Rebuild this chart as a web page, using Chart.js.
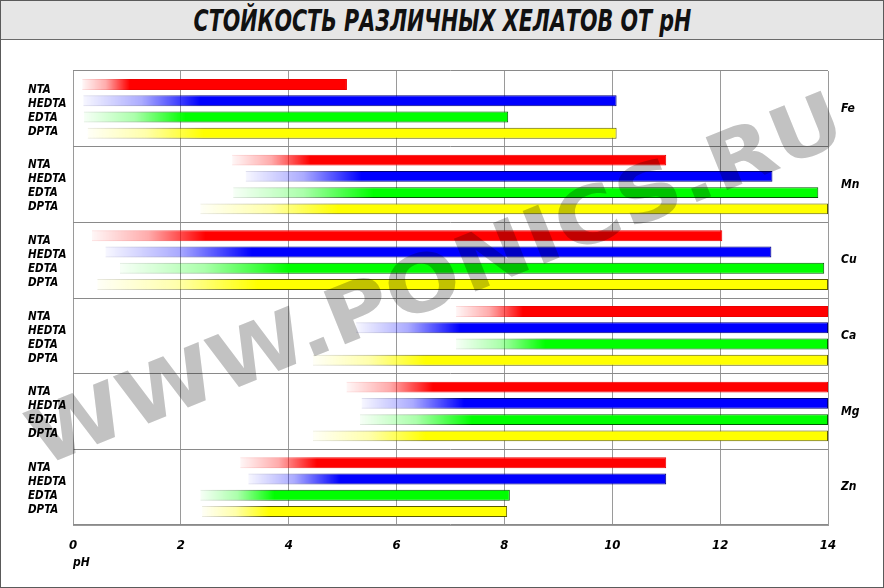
<!DOCTYPE html>
<html lang="ru">
<head>
<meta charset="utf-8">
<title>Стойкость различных хелатов от pH</title>
<script src="https://cdn.jsdelivr.net/npm/chart.js@4.4.1/dist/chart.umd.min.js"></script>
<style>
    html, body {
        margin: 0;
        padding: 0;
        background: #ffffff;
    }
    .frame {
        position: relative;
        width: 884px;
        height: 588px;
        box-sizing: border-box;
        border: 1px solid #5a5a5a;
        background: #ffffff;
        overflow: hidden;
    }
    .title-bar {
        height: 38px;
        background: #e6e6e6;
        border-bottom: 1px solid #6a6a6a;
        text-align: center;
        font-family: "DejaVu Sans Condensed", "DejaVu Sans", sans-serif;
        font-weight: bold;
        font-style: italic;
        font-size: 30px;
        line-height: 40px;
        color: #111111;
    }
    .title-bar span {
        display: inline-block;
        transform: scaleX(0.765);
        white-space: nowrap;
    }
    .chart-box {
        position: absolute;
        left: 0;
        top: 39px;
        width: 882px;
        height: 547px;
    }
</style>
</head>
<body>
<div class="frame">
    <div class="title-bar"><span>СТОЙКОСТЬ РАЗЛИЧНЫХ ХЕЛАТОВ ОТ pH</span></div>
    <div class="chart-box"><canvas id="chelateChart"></canvas></div>
</div>

<script>
// Data (pH ranges of stability)
const metals = ['Fe', 'Mn', 'Cu', 'Ca', 'Mg', 'Zn'];
const chelates = ['NTA', 'HEDTA', 'EDTA', 'DPTA'];
const phTicks = [0, 2, 4, 6, 8, 10, 12, 14];

const ntaStart   = [0.17, 2.95, 0.35, 7.10, 5.07, 3.10];
const ntaEnd     = [5.08, 11.00, 12.04, 14.00, 14.00, 11.00];
const hedtaStart = [0.19, 3.20, 0.60, 5.25, 5.35, 3.25];
const hedtaEnd   = [10.08, 12.97, 12.95, 14.00, 14.00, 11.00];
const edtaStart  = [0.20, 2.97, 0.87, 7.10, 5.32, 2.36];
const edtaEnd    = [8.07, 13.82, 13.93, 14.00, 14.00, 8.10];
const dptaStart  = [0.27, 2.36, 0.45, 4.45, 4.45, 2.39];
const dptaEnd    = [10.08, 14.00, 14.00, 14.00, 14.00, 8.05];

const labelFont = { family: '"DejaVu Sans Condensed", "DejaVu Sans", sans-serif', weight: 'bold', style: 'italic' };

// Bar fill fades in from the left end of each range
function fadeFill(rgb, fade, a0) {
    return function(ctx) {
        const chart = ctx.chart;
        if (!chart.chartArea || !ctx.raw) return 'rgb(' + rgb + ')';
        const x = chart.scales.x;
        const x0 = x.getPixelForValue(ctx.raw[0]);
        const x1 = x.getPixelForValue(ctx.raw[1]);
        const g = chart.ctx.createLinearGradient(x0, 0, x0 + (x1 - x0) * fade, 0);
        g.addColorStop(0, 'rgba(' + rgb + ',' + a0 + ')');
        g.addColorStop(0.5, 'rgba(' + rgb + ',' + (a0 + 0.3) + ')');
        g.addColorStop(1, 'rgba(' + rgb + ',1)');
        return g;
    };
}

function makeSet(label, starts, ends, fill, edge, fade) {
    return {
        label: label,
        data: starts.map((s, i) => [s, ends[i]]),
        backgroundColor: fadeFill(fill, fade, 0.03),
        borderColor: fadeFill(edge, fade, 0.12),
        borderWidth: 1,
        borderSkipped: 'start',
        categoryPercentage: 0.86,
        barPercentage: 0.67
    };
}

// Watermark over the plot (multiplied, so bars under it get darker)
const watermark = {
    id: 'watermark',
    afterDatasetsDraw(chart) {
        const c = chart.ctx;
        c.save();
        c.font = 'bold 78px "DejaVu Sans", sans-serif';
        const w = c.measureText('WWW.PONICS.RU').width;
        c.globalCompositeOperation = 'multiply';
        c.translate(40, 427);
        c.rotate(-22 * Math.PI / 180);
        c.scale(872 / w, 1);
        c.fillStyle = '#c2c2c2';
        c.textAlign = 'left';
        c.textBaseline = 'alphabetic';
        c.fillText('WWW.PONICS.RU', 0, 0);
        c.restore();
    }
};

const chelateCtx = document.getElementById('chelateChart').getContext('2d');
const chelateChart = new Chart(chelateCtx, {
    type: 'bar',
    data: {
        labels: metals,
        datasets: [
            makeSet('NTA', ntaStart, ntaEnd, '255,0,0', '235,0,0', 0.18),
            makeSet('HEDTA', hedtaStart, hedtaEnd, '0,0,255', '0,0,120', 0.22),
            makeSet('EDTA', edtaStart, edtaEnd, '0,255,0', '0,90,0', 0.24),
            makeSet('DPTA', dptaStart, dptaEnd, '255,255,0', '90,90,0', 0.22)
        ]
    },
    options: {
        indexAxis: 'y',
        responsive: true,
        maintainAspectRatio: false,
        animation: false,
        layout: {
            padding: { left: 27, right: 0, top: 31, bottom: 0 }
        },
        scales: {
            x: {
                type: 'linear',
                min: 0,
                max: 14,
                afterBuildTicks: scale => {
                    scale.ticks = phTicks.map(v => ({ value: v }));
                },
                afterFit: scale => { scale.height = 62; },
                grid: {
                    color: '#9a9a9a',
                    lineWidth: 1,
                    drawTicks: false
                },
                border: { color: '#9a9a9a' },
                ticks: {
                    color: '#000000',
                    padding: 13,
                    font: Object.assign({ size: 13 }, labelFont)
                },
                title: {
                    display: true,
                    text: 'pH',
                    align: 'start',
                    color: '#000000',
                    font: Object.assign({ size: 12 }, labelFont),
                    padding: { top: 0, bottom: 17 }
                }
            },
            y: {
                type: 'category',
                position: 'right',
                offset: true,
                afterFit: scale => { scale.width = 55; },
                grid: {
                    offset: true,
                    color: '#8a8a8a',
                    lineWidth: 1,
                    drawTicks: false
                },
                border: { color: '#9a9a9a' },
                ticks: {
                    color: '#000000',
                    padding: 13,
                    crossAlign: 'near',
                    font: Object.assign({ size: 12 }, labelFont)
                }
            },
            yl: {
                type: 'category',
                position: 'left',
                labels: metals.map(() => chelates),
                offset: true,
                z: 1,
                afterFit: scale => { scale.width = 45; },
                grid: { display: false, drawTicks: false },
                border: { display: false },
                ticks: {
                    color: '#000000',
                    padding: 0,
                    labelOffset: 2,
                    crossAlign: 'far',
                    font: Object.assign({ size: 11.5, lineHeight: '14px' }, labelFont)
                }
            }
        },
        plugins: {
            legend: { display: false },
            tooltip: { enabled: false }
        }
    },
    plugins: [watermark]
});
</script>
</body>
</html>
